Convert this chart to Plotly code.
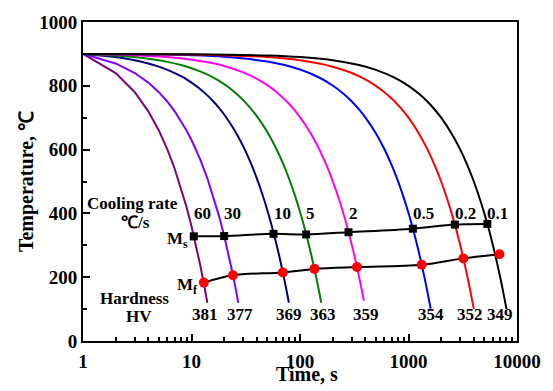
import numpy as np
import plotly.graph_objects as go

# ---------------- data ----------------
rates = ["60", "30", "10", "5", "2", "0.5", "0.2", "0.1"]
hardness = [381, 377, 369, 363, 359, 354, 352, 349]
colors = ["#800080", "#8000FF", "#000080", "#008000", "#FF00FF", "#0000FF", "#FF0000", "#000000"]
shapes = ["linear", "linear", "spline", "spline", "spline", "spline", "spline", "spline"]

curve_t = [
    [1, 2, 3, 4, 5, 6, 7, 8, 9, 10, 11, 12, 13, 14],
    [1, 2, 3, 4, 5, 6, 7, 8, 9, 10, 12, 14, 16, 18, 20, 22, 24, 26, 27],
    [1, 2, 3, 4, 5, 6, 7, 8, 9, 10, 12, 14, 16, 18, 20, 25, 30, 35, 40, 45, 50, 55, 60, 65, 70, 75, 79],
    [1, 2, 3, 4, 5, 6, 8, 10, 12, 15, 20, 25, 30, 40, 50, 60, 70, 80, 90, 100, 110, 120, 130, 140, 150, 157],
    [1, 2, 3, 5, 7, 10, 15, 20, 30, 40, 50, 60, 80, 100, 125, 150, 175, 200, 225, 250, 275, 300, 325, 350, 375, 388],
    [1, 5, 10, 20, 50, 100, 150, 200, 250, 300, 350, 400, 500, 600, 700, 800, 900, 1000, 1100, 1200, 1300, 1400, 1500, 1600],
    [1, 10, 50, 100, 200, 300, 400, 500, 600, 700, 850, 1000, 1250, 1500, 1750, 2000, 2250, 2500, 2750, 3000, 3250, 3500, 3750, 4000],
    [1, 10, 50, 100, 200, 350, 500, 750, 1000, 1250, 1500, 1750, 2000, 2500, 3000, 3500, 4000, 4500, 5000, 5500, 6000, 6500, 7000, 7500, 8000],
]
curve_T = [
    [900, 840, 780, 720, 660, 600, 540, 480, 420, 360, 300, 240, 180, 120],
    [900, 870, 840, 810, 780, 750, 720, 690, 660, 630, 570, 510, 450, 390, 330, 270, 210, 150, 120],
    [900, 890, 880, 870, 860, 850, 840, 830, 820, 810, 790, 770, 750, 730, 710, 660, 610, 560, 510, 460, 410, 360, 310, 260, 210, 160, 120],
    [900, 895, 890, 885, 880, 875, 865, 855, 845, 830, 805, 780, 755, 705, 655, 605, 555, 505, 455, 405, 355, 305, 255, 205, 155, 120],
    [900, 898, 896, 892, 888, 882, 872, 862, 842, 822, 802, 782, 742, 702, 652, 602, 552, 502, 452, 402, 352, 302, 252, 202, 152, 126],
    [900, 898, 896, 891, 876, 851, 826, 801, 776, 751, 726, 701, 651, 601, 551, 501, 451, 401, 351, 301, 251, 201, 151, 101],
    [900, 898, 890, 880, 860, 840, 820, 800, 780, 760, 730, 700, 650, 600, 550, 500, 450, 400, 350, 300, 250, 200, 150, 100],
    [900, 899, 895, 890, 880, 865, 850, 825, 800, 775, 750, 725, 700, 650, 600, 550, 500, 450, 400, 350, 300, 250, 200, 150, 100],
]

ms_t = [10.5, 20, 57, 114, 280, 1097, 2676, 5330]
ms_T = [328, 329, 336, 334, 341, 352, 365, 367]
mf_t = [13, 24.1, 69.5, 136, 335, 1323, 3206, 6890]
mf_T = [183, 206, 215, 226, 232, 239, 259, 272]

x_ticks = [1, 10, 100, 1000, 10000]
x_ticktext = ["1", "10", "100", "1000", "10000"]
y_ticks = [0, 200, 400, 600, 800, 1000]

FONT = "Liberation Serif"

fig = go.Figure()
for t, T, c, sh in zip(curve_t, curve_T, colors, shapes):
    line = dict(color=c, width=2, shape=sh)
    if sh == "spline":
        line["smoothing"] = 1.0
    fig.add_trace(go.Scatter(x=t, y=T, mode="lines", line=line, hoverinfo="skip"))

fig.add_trace(go.Scatter(x=ms_t, y=ms_T, mode="lines+markers",
                         line=dict(color="black", width=2, shape="spline"),
                         marker=dict(symbol="square", size=8, color="black")))
fig.add_trace(go.Scatter(x=mf_t, y=mf_T, mode="lines+markers",
                         line=dict(color="black", width=2, shape="spline"),
                         marker=dict(symbol="circle", size=10, color="red")))

ann_font = dict(family=FONT, size=17, color="black", weight="bold")

# cooling rate labels
for r, t in zip(rates, ms_t):
    fig.add_annotation(x=np.log10(t), y=400, text=r, showarrow=False, xanchor="left", yanchor="middle",
                       xshift=-2, font=ann_font)

# hardness labels
end_t = [ct[-1] for ct in curve_t]
hv_shift = [-2, 2, 0, 2, 2, 0, -4, -6]
for h, t, s in zip(hardness, end_t, hv_shift):
    fig.add_annotation(x=np.log10(t), y=82, text=str(h), showarrow=False, xanchor="center", yanchor="middle",
                       xshift=s, font=ann_font)

fig.add_annotation(x=np.log10(ms_t[0]), y=ms_T[0], text="M<sub>s</sub>", showarrow=False,
                   xanchor="right", yanchor="middle", xshift=-4, yshift=-4, font=ann_font)
fig.add_annotation(x=np.log10(mf_t[0]), y=mf_T[0], text="M<sub>f</sub>", showarrow=False,
                   xanchor="right", yanchor="middle", xshift=-4, yshift=-3, font=ann_font)

fig.add_annotation(xref="paper", x=0.114, y=430, text="Cooling rate", showarrow=False,
                   xanchor="center", yanchor="middle", font=ann_font)
fig.add_annotation(xref="paper", x=0.122, y=370, text="℃/s", showarrow=False,
                   xanchor="center", yanchor="middle", font=ann_font)
fig.add_annotation(xref="paper", x=0.119, y=133, text="Hardness", showarrow=False,
                   xanchor="center", yanchor="middle", font=ann_font)
fig.add_annotation(xref="paper", x=0.129, y=77, text="HV", showarrow=False,
                   xanchor="center", yanchor="middle", font=ann_font)

# x-axis title
fig.add_annotation(xref="paper", yref="paper", x=0.517, y=-0.102, text="Time, s", showarrow=False,
                   xanchor="center", yanchor="middle",
                   font=dict(family=FONT, size=20, color="black", weight="bold"))

minor_x = [m * d for d in [1, 10, 100, 1000] for m in range(2, 10)]

fig.update_layout(
    width=553, height=391,
    margin=dict(l=83, r=33, t=16, b=50),
    paper_bgcolor="white", plot_bgcolor="white",
    showlegend=False,
    xaxis=dict(type="log", range=[0, 4], tickvals=x_ticks, ticktext=x_ticktext,
               ticks="inside", ticklen=7, tickwidth=2, tickcolor="black",
               showline=True, linecolor="black", linewidth=2, mirror=True,
               showgrid=False, zeroline=False, ticklabelstandoff=2,
               tickfont=dict(family=FONT, size=19, color="black", weight="bold"),
               minor=dict(ticks="inside", ticklen=4, tickwidth=1.5, tickcolor="black", tickvals=minor_x, showgrid=False)),
    yaxis=dict(range=[0, 1000], tickvals=y_ticks,
               ticks="inside", ticklen=7, tickwidth=2, tickcolor="black",
               showline=True, linecolor="black", linewidth=2, mirror=True,
               showgrid=False, zeroline=False,
               tickfont=dict(family=FONT, size=19, color="black", weight="bold"),
               minor=dict(ticks="inside", ticklen=4, tickwidth=1.5, tickcolor="black", dtick=100, showgrid=False),
               title=dict(text="Temperature, ℃", font=dict(family=FONT, size=20, color="black", weight="bold"), standoff=0)),
)

fig.write_html("out.html")
